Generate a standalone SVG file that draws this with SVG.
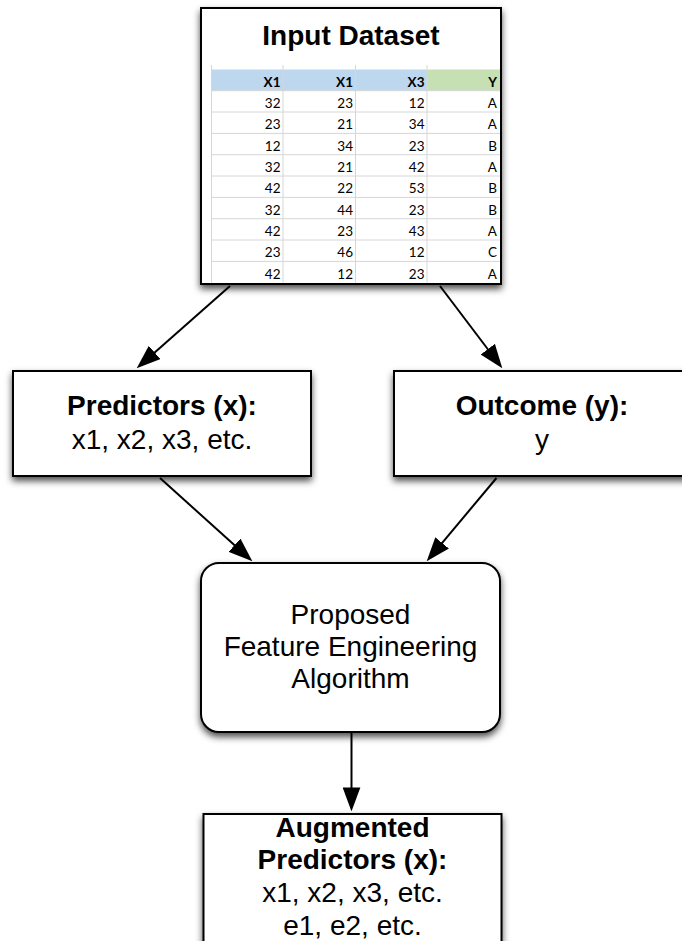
<svg xmlns="http://www.w3.org/2000/svg" width="682" height="941" viewBox="0 0 682 941">
  <defs>
    <style>
      .box { fill: #ffffff; stroke: #000000; stroke-width: 2; filter: url(#shadow); }
      .lbl { font-family: "Liberation Sans", Arial, Helvetica, sans-serif; font-size: 28px; fill: #000000; text-anchor: middle; }
      .b { font-weight: bold; }
      .cell { font-family: Lato, "Liberation Sans", sans-serif; font-size: 13.5px; fill: #000000; text-anchor: end; }
      .hdr { font-weight: bold; }
      .grid { stroke: #d6d6d6; stroke-width: 1; fill: none; }
      .edge { stroke: #000000; stroke-width: 2; fill: none; marker-end: url(#head); }
    </style>
    <filter id="shadow" x="-15%" y="-15%" width="130%" height="140%">
      <feGaussianBlur in="SourceAlpha" stdDeviation="3.5"/>
      <feOffset dx="0" dy="4" result="blur"/>
      <feFlood flood-color="#000000" flood-opacity="0.7"/>
      <feComposite in2="blur" operator="in"/>
      <feMerge>
        <feMergeNode/>
        <feMergeNode in="SourceGraphic"/>
      </feMerge>
    </filter>
    <marker id="head" markerUnits="userSpaceOnUse" markerWidth="24" markerHeight="18" viewBox="0 0 23 17" refX="13" refY="8.5" orient="auto">
      <path d="M0,0 L23,8.5 L0,17 z" fill="#000000"/>
    </marker>
    <clipPath id="tableClip">
      <rect x="201" y="8" width="300" height="276"/>
    </clipPath>
  </defs>

  <rect width="682" height="941" fill="#ffffff"/>

  <!-- connectors -->
  <g id="connectors">
    <line class="edge" x1="230" y1="286" x2="144.5" y2="361.4"/>
    <line class="edge" x1="440" y1="286" x2="496" y2="360"/>
    <line class="edge" x1="160" y1="478" x2="244.6" y2="554.3"/>
    <line class="edge" x1="496.5" y1="478" x2="433.4" y2="553.3"/>
    <line class="edge" x1="351.5" y1="733" x2="351.5" y2="801"/>
  </g>

  <!-- input data with spreadsheet preview -->
  <g id="input-dataset">
    <rect class="box" x="201" y="8" width="300" height="276"/>
    <text class="lbl b" x="351" y="45">Input Dataset</text>
    <g clip-path="url(#tableClip)">
      <rect x="211.5" y="69.5" width="215.5" height="21.2" fill="#bdd7ee"/>
      <rect x="427" y="69.5" width="73" height="21.2" fill="#c6e0b4"/>
      <g class="grid">
        <line x1="211.5" y1="65" x2="211.5" y2="286"/>
        <line x1="283" y1="65" x2="283" y2="286"/>
        <line x1="355.5" y1="65" x2="355.5" y2="286"/>
        <line x1="427" y1="65" x2="427" y2="286"/>
        <line x1="211.5" y1="90.7" x2="501" y2="90.7"/>
        <line x1="211.5" y1="112" x2="501" y2="112"/>
        <line x1="211.5" y1="133.4" x2="501" y2="133.4"/>
        <line x1="211.5" y1="154.7" x2="501" y2="154.7"/>
        <line x1="211.5" y1="176" x2="501" y2="176"/>
        <line x1="211.5" y1="197.4" x2="501" y2="197.4"/>
        <line x1="211.5" y1="218.7" x2="501" y2="218.7"/>
        <line x1="211.5" y1="240" x2="501" y2="240"/>
        <line x1="211.5" y1="261.4" x2="501" y2="261.4"/>
      </g>
      <g class="cell">
        <text class="hdr" x="280.5" y="87">X1</text>
        <text class="hdr" x="353" y="87">X1</text>
        <text class="hdr" x="424.5" y="87">X3</text>
        <text class="hdr" x="497" y="87">Y</text>

        <text x="280.5" y="108">32</text><text x="353" y="108">23</text><text x="424.5" y="108">12</text><text x="497" y="108">A</text>
        <text x="280.5" y="129.3">23</text><text x="353" y="129.3">21</text><text x="424.5" y="129.3">34</text><text x="497" y="129.3">A</text>
        <text x="280.5" y="150.7">12</text><text x="353" y="150.7">34</text><text x="424.5" y="150.7">23</text><text x="497" y="150.7">B</text>
        <text x="280.5" y="172">32</text><text x="353" y="172">21</text><text x="424.5" y="172">42</text><text x="497" y="172">A</text>
        <text x="280.5" y="193.3">42</text><text x="353" y="193.3">22</text><text x="424.5" y="193.3">53</text><text x="497" y="193.3">B</text>
        <text x="280.5" y="214.7">32</text><text x="353" y="214.7">44</text><text x="424.5" y="214.7">23</text><text x="497" y="214.7">B</text>
        <text x="280.5" y="236">42</text><text x="353" y="236">23</text><text x="424.5" y="236">43</text><text x="497" y="236">A</text>
        <text x="280.5" y="257.3">23</text><text x="353" y="257.3">46</text><text x="424.5" y="257.3">12</text><text x="497" y="257.3">C</text>
        <text x="280.5" y="278.7">42</text><text x="353" y="278.7">12</text><text x="424.5" y="278.7">23</text><text x="497" y="278.7">A</text>
      </g>
    </g>
    <rect x="201" y="8" width="300" height="276" fill="none" stroke="#000000" stroke-width="2"/>
  </g>

  <g id="predictors">
    <rect class="box" x="13" y="371" width="298" height="105"/>
    <text class="lbl b" x="162" y="415">Predictors (x):</text>
    <text class="lbl" x="162" y="449">x1, x2, x3, etc.</text>
  </g>

  <g id="outcome">
    <rect class="box" x="394" y="371" width="298" height="105"/>
    <text class="lbl b" x="542" y="415">Outcome (y):</text>
    <text class="lbl" x="542" y="449">y</text>
  </g>

  <g id="algorithm">
    <rect class="box" x="201" y="563" width="299" height="169" rx="18" ry="18"/>
    <text class="lbl" x="350.5" y="624">Proposed</text>
    <text class="lbl" x="350.5" y="656">Feature Engineering</text>
    <text class="lbl" x="350.5" y="688">Algorithm</text>
  </g>

  <g id="augmented">
    <rect class="box" x="203.5" y="814" width="298" height="150"/>
    <text class="lbl b" x="352.5" y="837">Augmented</text>
    <text class="lbl b" x="352.5" y="869">Predictors (x):</text>
    <text class="lbl" x="352.5" y="902">x1, x2, x3, etc.</text>
    <text class="lbl" x="352.5" y="935">e1, e2, etc.</text>
  </g>
</svg>
